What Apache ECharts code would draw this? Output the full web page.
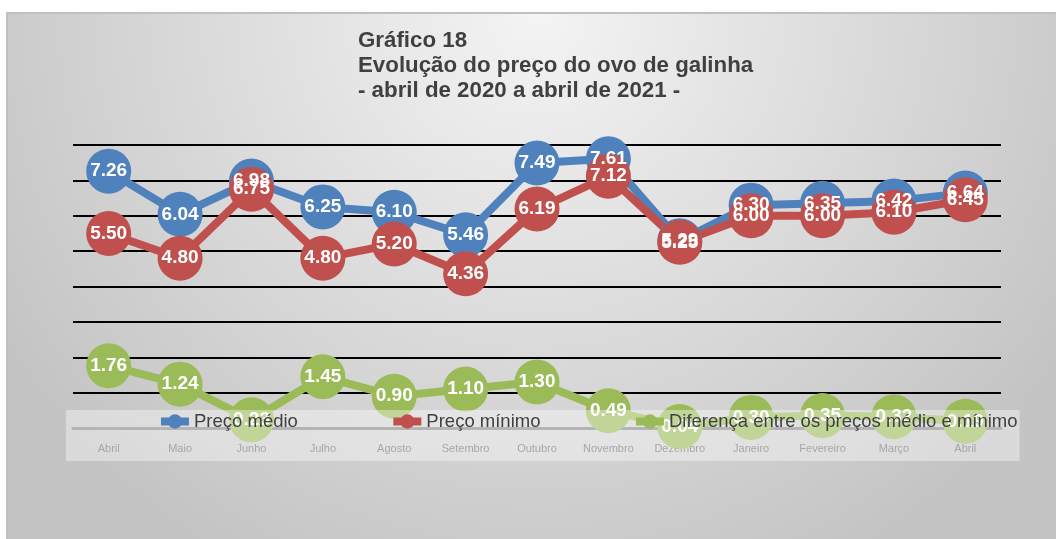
<!DOCTYPE html>
<html>
<head>
<meta charset="utf-8">
<script src="https://cdn.jsdelivr.net/npm/echarts@6/dist/echarts.min.js"></script>
<style>
html,body{margin:0;padding:0;background:#fff;}
#chart{width:1056px;height:539px;}
</style>
</head>
<body>
<div id="chart"></div>
<script>
const categories = ['Abril','Maio','Junho','Julho','Agosto','Setembro','Outubro','Novembro','Dezembro','Janeiro','Fevereiro','Março','Abril'];
const precoMedio = [7.26, 6.04, 6.98, 6.25, 6.10, 5.46, 7.49, 7.61, 5.29, 6.30, 6.35, 6.42, 6.64];
const precoMinimo = [5.50, 4.80, 6.75, 4.80, 5.20, 4.36, 6.19, 7.12, 5.25, 6.00, 6.00, 6.10, 6.45];
const diferenca = [1.76, 1.24, 0.23, 1.45, 0.90, 1.10, 1.30, 0.49, 0.04, 0.30, 0.35, 0.32, 0.19];
const seriesNames = ['Preço médio', 'Preço mínimo', 'Diferença entre os preços médio e mínimo'];
const titleLines = ['Gráfico 18', 'Evolução do preço do ovo de galinha', '- abril de 2020 a abril de 2021 -'];

const chart = echarts.init(document.getElementById('chart'), null, {renderer: 'canvas'});
const font = 'Liberation Sans, Arial, sans-serif';
function mk(name, data, color) {
  return {
    name: name,
    type: 'line',
    data: data,
    symbol: 'circle',
    symbolSize: 45,
    lineStyle: {color: color, width: 8},
    itemStyle: {color: color},
    label: {
      show: true,
      position: 'inside',
      color: '#fff',
      fontWeight: 'bold',
      fontSize: 19,
      fontFamily: font,
      formatter: p => p.value.toFixed(2)
    },
    emphasis: {disabled: true},
    animation: false
  };
}
const option = {
  backgroundColor: '#fff',
  animation: false,
  graphic: [{
    type: 'rect',
    z: -10,
    shape: {x: 7, y: 13, width: 1060, height: 540},
    style: {
      fill: {
        type: 'radial', x: 0.5, y: 0, r: 1.15,
        colorStops: [{offset: 0, color: '#f4f4f4'}, {offset: 1, color: '#c4c4c4'}]
      },
      stroke: '#c0c0c0',
      lineWidth: 2
    },
    silent: true
  }],
  title: {
    text: titleLines.join('\n'),
    left: 358,
    top: 28,
    padding: 0,
    textStyle: {
      fontFamily: font,
      fontSize: 22.3,
      fontWeight: 'bold',
      color: '#404040',
      lineHeight: 25
    }
  },
  legend: {
    data: seriesNames,
    left: 66,
    top: 410,
    orient: 'horizontal',
    padding: [2, 2, 30, 91],
    itemGap: 91.5,
    itemWidth: 28,
    itemHeight: 18,
    lineStyle: {width: 8},
    backgroundColor: 'rgba(255,255,255,0.38)',
    textStyle: {fontFamily: font, fontSize: 18.5, color: '#404040'},
    selectedMode: false
  },
  grid: {left: 73, right: 55, top: 145, bottom: 111, containLabel: false},
  xAxis: {
    type: 'category',
    data: categories,
    boundaryGap: true,
    axisLine: {lineStyle: {color: '#868686', width: 3}},
    axisTick: {show: false},
    axisLabel: {color: '#707070', fontSize: 11, fontFamily: font, margin: 15, interval: 0}
  },
  yAxis: {
    type: 'value',
    min: 0, max: 8, interval: 1,
    axisLabel: {show: false},
    axisLine: {show: false},
    axisTick: {show: false},
    splitLine: {lineStyle: {color: '#000', width: 2}}
  },
  series: [
    mk(seriesNames[0], precoMedio, '#4f81bd'),
    mk(seriesNames[1], precoMinimo, '#c0504d'),
    mk(seriesNames[2], diferenca, '#9bbb59')
  ]
};
chart.setOption(option);
</script>
</body>
</html>
